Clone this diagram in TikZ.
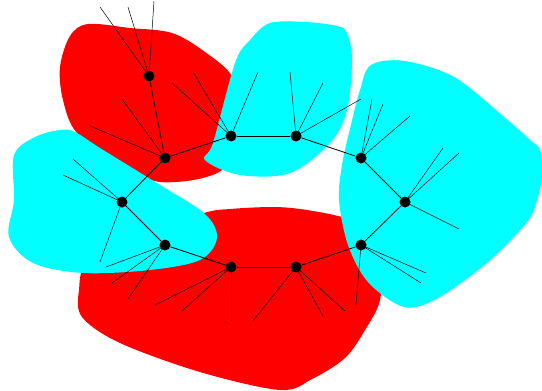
\documentclass[tikz,border=0pt]{standalone}
\definecolor{aquablob}{RGB}{0,255,255}
\definecolor{redfill}{RGB}{255,0,0}
\begin{document}
\begin{tikzpicture}[x=1pt,y=-1pt,
  vtx/.style={circle,fill=black,inner sep=0pt,minimum size=11pt},
  ringedge/.style={line width=0.8pt},
  spoke/.style={line width=0.5pt},
  redblob/.style={fill=redfill,draw=none},
  cyanblob/.style={fill=aquablob,draw=none}]
\useasboundingbox (0,0) rectangle (542,391);
% red blobs
\fill[redblob] plot[smooth cycle,tension=0.55] coordinates {(88,24) (130,28) (172,33) (205,52) (233,78) (238,120) (222,170) (160,182) (118,160) (77,133) (63,100) (60,67) (70,36)};
\fill[redblob] plot[smooth cycle,tension=0.55] coordinates {(271,207) (230,209) (204,213) (140,235) (88,262) (79,290) (82,317) (120,343) (200,372) (280,390) (312,379) (345,358) (365,330) (380,300) (380,260) (360,225) (338,216) (300,209)};
% cyan blobs
\fill[cyanblob] plot[smooth cycle,tension=0.55] coordinates {(250,40) (270,23) (305,22) (337,26) (347,33) (352,60) (347,110) (330,143) (290,173) (240,175) (205,160) (213,143) (235,63)};
\fill[cyanblob] plot[smooth cycle,tension=0.55] coordinates {(60,130) (35,137) (14,155) (14,200) (9,237) (33,263) (83,273) (150,270) (200,260) (217,238) (205,214) (160,185) (100,148) (75,132)};
\fill[cyanblob] plot[smooth cycle,tension=0.55] coordinates {(371,65) (404,61) (454,77) (504,117) (530,140) (540,150) (542,175) (537,200) (527,222) (488,262) (438,298) (404,307) (368,282) (348,245) (339,200) (342,165) (349,133) (360,90)};
% vertices
\node[vtx] (A) at (149,76) {};
\node[vtx] (B) at (165,158) {};
\node[vtx] (C) at (231,136) {};
\node[vtx] (D) at (296,136) {};
\node[vtx] (E) at (361,158) {};
\node[vtx] (F) at (405,202) {};
\node[vtx] (G) at (361,245) {};
\node[vtx] (H) at (296,267) {};
\node[vtx] (I) at (231,267) {};
\node[vtx] (J) at (165,245) {};
\node[vtx] (K) at (122,202) {};
% free ends
\coordinate (a1) at (100,7); \coordinate (a2) at (128,7); \coordinate (a3) at (154,1);
\coordinate (b1) at (122,99); \coordinate (b2) at (90,126);
\coordinate (c1) at (172,83); \coordinate (c2) at (193,72); \coordinate (c3) at (258,72);
\coordinate (d1) at (290,72); \coordinate (d2) at (323,83); \coordinate (d3) at (361,99);
\coordinate (e1) at (372,99); \coordinate (e2) at (383,104); \coordinate (e3) at (410,116);
\coordinate (f1) at (443,148); \coordinate (f2) at (459,153); \coordinate (f3) at (459,229);
\coordinate (g1) at (426,273); \coordinate (g2) at (421,283); \coordinate (g3) at (356,305);
\coordinate (h1) at (323,316); \coordinate (h2) at (345,311); \coordinate (h3) at (253,321);
\coordinate (i1) at (231,321); \coordinate (i2) at (182,311); \coordinate (i3) at (155,305);
\coordinate (j1) at (106,267); \coordinate (j2) at (112,283); \coordinate (j3) at (128,299);
\coordinate (k1) at (100,262); \coordinate (k2) at (73,159); \coordinate (k3) at (63,175);
% spokes
\foreach \v/\list in {A/{a1,a2,a3},B/{b1,b2},C/{c1,c2,c3},D/{d1,d2,d3},E/{e1,e2,e3},F/{f1,f2,f3},G/{g1,g2,g3},H/{h1,h2,h3},I/{i1,i2,i3},J/{j1,j2,j3},K/{k1,k2,k3}}
  \foreach \p in \list \draw[spoke] (\v.center) -- (\p);
% ring
\draw[ringedge] (A) -- (B);
\draw[ringedge] (B) -- (C);
\draw[ringedge] (C) -- (D);
\draw[ringedge] (D) -- (E);
\draw[ringedge] (E) -- (F);
\draw[ringedge] (F) -- (G);
\draw[ringedge] (G) -- (H);
\draw[ringedge] (H) -- (I);
\draw[ringedge] (I) -- (J);
\draw[ringedge] (J) -- (K);
\draw[ringedge] (K) -- (B);
\end{tikzpicture}
\end{document}
